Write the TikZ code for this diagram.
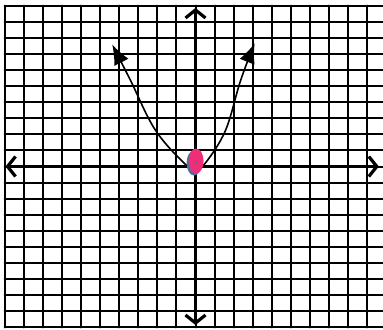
\documentclass[tikz,border=0pt]{standalone}
\usetikzlibrary{arrows.meta}
\definecolor{dotpink}{HTML}{EE2F78}
\definecolor{dotshade}{HTML}{4F6E9C}
\begin{document}
\begin{tikzpicture}[x=19.1pt,y=16.1pt,line cap=round,line join=round]
			\useasboundingbox (-10.236,-10.155) rectangle (9.817,10.342);
			\def\n{10}
			\foreach \x in{-\n,...,\n}{\draw[line width=2pt] (\x,-\n) -- (\x,\n);}
			\foreach \y in{-\n,...,\n}{\draw[line width=2pt] (-\n,\y) -- (\n,\y);}
			\tikzset{axis/.style={line width=3.2pt,{Straight Barb[length=8pt,width=20pt]}-{Straight Barb[length=8pt,width=20pt]}}}
			\coordinate (xl) at (-9.95,0);\coordinate (xr) at (9.6,0);
			\coordinate (yt) at (0,9.85);\coordinate (yb) at (0,-9.85);
			\draw[axis] (xl) -- (xr);
			\draw[axis] (yb) -- (yt);
			\draw[line width=1.6pt,{Latex[length=20pt,width=16pt]}-{Latex[length=20pt,width=16pt]}] plot[smooth,tension=0.6] coordinates{(-4.36,7.58) (-3.40,5.34) (-2.09,2.24) (-0.45,0.05) (0.05,-0.08) (0.52,0.22) (1.57,2.24) (2.36,5.34) (3.10,7.66)};
			\tikzset{dot/.pic={
					\fill[dotshade] (-2pt,-2pt) ellipse (7.5pt and 12.5pt);
					\fill[dotpink] (0,0) ellipse (7.5pt and 12.5pt);
					\fill[dotshade] (0,-1pt) circle (1.3pt);
			}}
			\pic at(0.03,0.34) {dot};
		\end{tikzpicture}
\end{document}
